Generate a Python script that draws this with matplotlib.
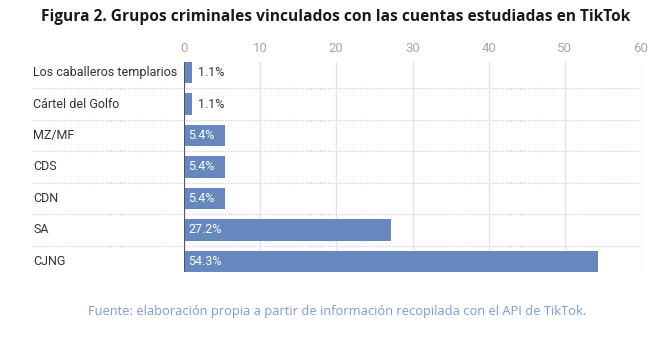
import matplotlib.pyplot as plt
from matplotlib.transforms import blended_transform_factory

OUT = 'out.png'

# data (top to bottom)
groups = ['Los caballeros templarios', 'Cártel del Golfo', 'MZ/MF', 'CDS', 'CDN', 'SA', 'CJNG']
values = [1.1, 1.1, 5.4, 5.4, 5.4, 27.2, 54.3]
ticks = [0, 10, 20, 30, 40, 50, 60]

bar_color = '#6688be'
W, H = 672, 341

fig = plt.figure(figsize=(W / 100, H / 100), dpi=100)
fig.patch.set_facecolor('white')
ax = fig.add_axes([184 / W, 1 - 272 / H, (641 - 184) / W, (272 - 62) / H])

n = len(groups)
ypos = list(range(n - 1, -1, -1))
bh = 0.667
ax.barh(ypos, values, height=bh, color=bar_color, zorder=3)
ax.set_xlim(0, 60)
ax.set_ylim(-bh / 2, n - 1 + bh / 2)

ax.set_xticks(ticks)
ax.xaxis.tick_top()
ax.tick_params(axis='x', length=0, pad=5, labelsize=9.5, labelcolor='#a8a8a8')
for lab in ax.get_xticklabels():
    lab.set_fontfamily('Roboto')
ax.set_yticks([])
ax.grid(axis='x', color='#e4e4e4', linewidth=1, zorder=0)
for s in ax.spines.values():
    s.set_visible(False)
ax.axvline(0, color='#555555', linewidth=1.5, zorder=4)

trans = blended_transform_factory(ax.transAxes, ax.transData)
x0 = (33 - 184) / (641 - 184)
for k in range(n - 1):
    ax.plot([x0, 1], [k + 0.5, k + 0.5], transform=trans, clip_on=False,
            color='#c8c8c8', linewidth=0.8, linestyle=(0, (1, 1.5)), zorder=1)

for y, g, v in zip(ypos, groups, values):
    ax.text(x0, y, g, transform=trans, ha='left', va='center',
            fontsize=9, family='Roboto', color='#333333')
    if v > 3:
        ax.text(0.55, y, f'{v}%', ha='left', va='center', fontsize=9,
                family='Roboto', color='white', zorder=5)
    else:
        ax.text(v + 0.8, y, f'{v}%', ha='left', va='center', fontsize=9,
                family='Roboto', color='#333333', zorder=5)

fig.text(336 / W, 1 - 17 / H, 'Figura 2. Grupos criminales vinculados con las cuentas estudiadas en TikTok',
         ha='center', va='center', fontsize=11.2, fontweight='bold', family='Open Sans', color='#1a1a1a')
fig.text(337 / W, 1 - 311 / H, 'Fuente: elaboración propia a partir de información recopilada con el API de TikTok.',
         ha='center', va='center', fontsize=9.3, family='Open Sans', color='#7f9ad6')

fig.savefig(OUT, dpi=100)
